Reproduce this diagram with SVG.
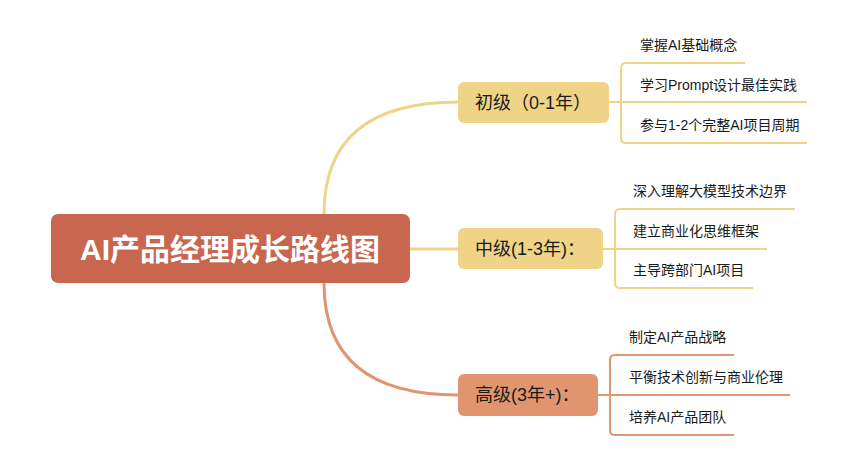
<svg xmlns="http://www.w3.org/2000/svg" width="865" height="469" viewBox="0 0 865 469">
<style>
text{font-family:"Liberation Sans","Noto Sans CJK SC",sans-serif;fill:#1a1a1a}
.root{font-size:30px;font-weight:bold;fill:#fff}
.br{font-size:18px}
.it{font-size:14px}
.y{stroke:#efd487;fill:none;stroke-width:2}
.s{stroke:#e1956f;fill:none;stroke-width:2}
.cy{stroke:#efd487;fill:none;stroke-width:3}
.cs{stroke:#e1956f;fill:none;stroke-width:3}
</style>
<rect width="865" height="469" fill="#fff"/>
<g id="connectors">
<path class="cy" d="M324,214 Q324,102 458,102"/>
<path class="cy" d="M410,249 L458,249"/>
<path class="cs" d="M324,283 Q324,395 458,395"/>
<path class="y" d="M609,102 L807,102"/>
<path class="y" d="M745,63 L626,63 Q621,63 621,68 L621,138 Q621,143 626,143 L807,143"/>
<path class="y" d="M603,249 L767,249"/>
<path class="y" d="M795,209 L620,209 Q615,209 615,214 L615,283 Q615,288 620,288 L753,288"/>
<path class="s" d="M598,395 L790,395"/>
<path class="s" d="M734,355 L615,355 Q610,355 610,360 L610,430 Q610,435 615,435 L734,435"/>
</g>
<g id="root">
<rect x="51" y="214" width="359" height="69" rx="7" fill="#c8664f"/>
<text class="root" x="230" y="260" text-anchor="middle">AI产品经理成长路线图</text>
</g>
<g id="junior">
<rect x="458" y="82" width="151" height="41" rx="6" fill="#efd487"/>
<text class="br" x="475" y="109">初级（0-1年）</text>
</g>
<g id="middle">
<rect x="458" y="228" width="145" height="41" rx="6" fill="#efd487"/>
<text class="br" x="475" y="255">中级(1-3年)：</text>
</g>
<g id="senior">
<rect x="458" y="374" width="140" height="42" rx="6" fill="#e1956f"/>
<text class="br" x="475" y="401">高级(3年+)：</text>
</g>
<g id="junior-items">
<text class="it" x="640" y="50">掌握AI基础概念</text>
<text class="it" x="640" y="90">学习Prompt设计最佳实践</text>
<text class="it" x="640" y="130">参与1-2个完整AI项目周期</text>
</g>
<g id="middle-items">
<text class="it" x="633" y="196">深入理解大模型技术边界</text>
<text class="it" x="633" y="236">建立商业化思维框架</text>
<text class="it" x="633" y="275">主导跨部门AI项目</text>
</g>
<g id="senior-items">
<text class="it" x="629" y="342">制定AI产品战略</text>
<text class="it" x="629" y="382">平衡技术创新与商业伦理</text>
<text class="it" x="629" y="422">培养AI产品团队</text>
</g>
</svg>
